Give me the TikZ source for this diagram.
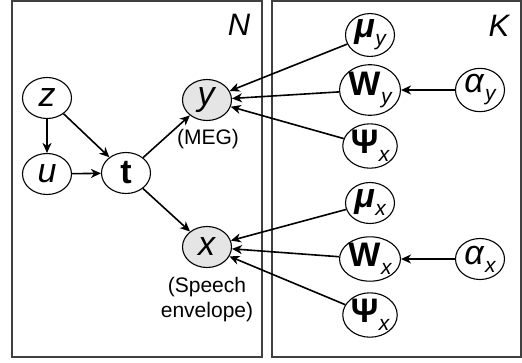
\documentclass[tikz,border=0pt]{standalone}
\usepackage{fontspec}
\setmainfont{Liberation Sans}
\usetikzlibrary{arrows.meta,shapes.geometric}
\tikzset{
  var/.style={ellipse,draw=black,line width=1.1pt,minimum width=49pt,minimum height=41pt,inner sep=0pt,fill=white,font=\fontsize{34}{34}\selectfont},
  obs/.style={var,fill=black!10},
  plate/.style={draw=black!75,line width=1.6pt},
  conn/.style={line width=1.6pt,-{Stealth[length=10pt,width=9pt,inset=3pt]}},
  lbl/.style={font=\fontsize{21}{25}\selectfont,align=center},
  platelbl/.style={font=\fontsize{31}{31}\selectfont\itshape}
}
\newcommand{\sbx}[1]{\hspace{0.5pt}\raisebox{-8pt}{\fontsize{21}{21}\selectfont\itshape #1}}
\begin{document}
\begin{tikzpicture}[x=1pt,y=-1pt]
\useasboundingbox (0,0) rectangle (522,362);
\draw[plate] (12,1) rectangle (262,357);
\draw[plate] (272,1) rectangle (521,357);
\node[platelbl] (Nl) at (239,25) {N};
\node[platelbl] (Kl) at (499,26) {K};
% left nodes
\node[var] (z) at (47,98) {\textit{z}};
\node[var] (u) at (47,174) {\textit{u}};
\node[var] (t) at (126,173) {\textbf{t}};
\node[obs] (y) at (207,100) {\textit{y}};
\node[obs] (x) at (207,247) {\textit{x}};
\node[lbl] (meg) at (208,139) {(MEG)};
\node[lbl] (env) at (207,300) {(Speech\\envelope)};
% right nodes
\node[var] (muy) at (370,35) {\textbf{\textit{μ}}\sbx{y}};
\node[var] (Wy) at (370,90) {\textbf{W}\sbx{y}};
\node[var] (Psy) at (370,146) {\textbf{Ψ}\sbx{x}};
\node[var] (mux) at (370,203) {\textbf{\textit{μ}}\sbx{x}};
\node[var] (Wx) at (370,259) {\textbf{W}\sbx{x}};
\node[var] (Psx) at (370,315) {\textbf{Ψ}\sbx{x}};
\node[var] (ay) at (480,90) {\textit{α}\sbx{y}};
\node[var] (ax) at (480,259) {\textit{α}\sbx{x}};
% edges
\draw[conn] (z) -- (u);
\draw[conn] (z) -- (t);
\draw[conn] (u) -- (t);
\draw[conn] (t) -- (y);
\draw[conn] (t) -- (x);
\draw[conn] (muy) -- (y);
\draw[conn] (Wy) -- (y);
\draw[conn] (Psy) -- (y);
\draw[conn] (mux) -- (x);
\draw[conn] (Wx) -- (x);
\draw[conn] (Psx) -- (x);
\draw[conn] (ay) -- (Wy);
\draw[conn] (ax) -- (Wx);
\end{tikzpicture}
\end{document}
